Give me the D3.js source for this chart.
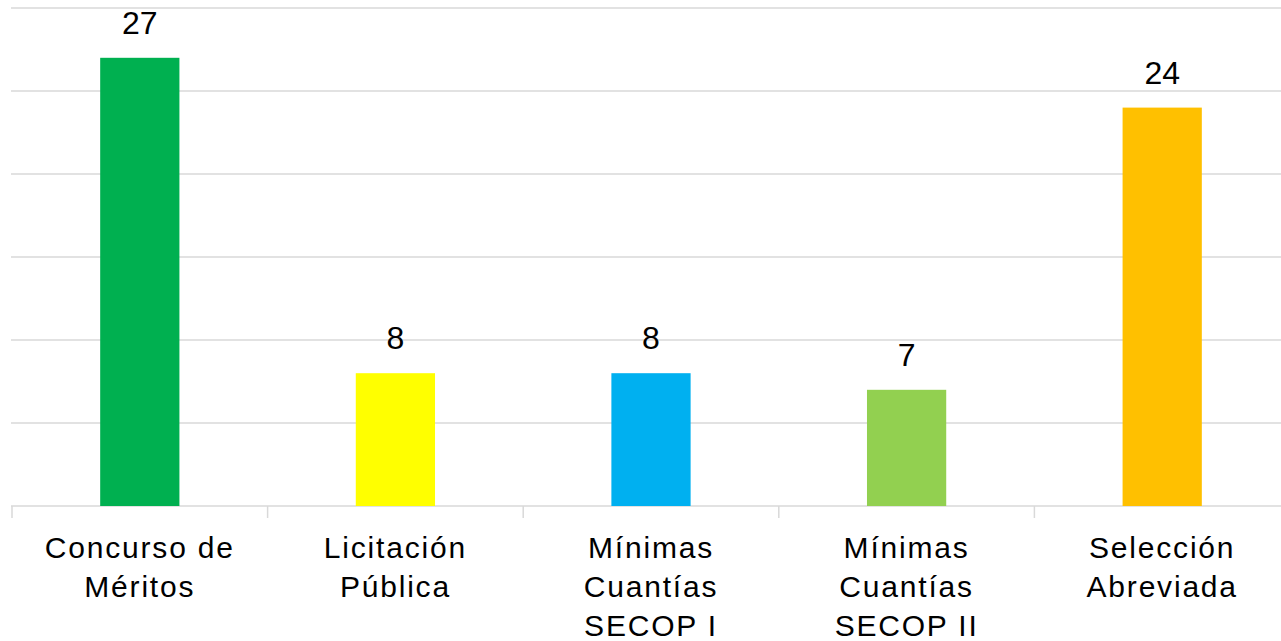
<!DOCTYPE html>
<html>
<head>
<meta charset="utf-8">
<script src="https://cdn.jsdelivr.net/npm/d3@7"></script>
<style>
  body { margin: 0; background: #fff; }
  svg { display: block; }
</style>
</head>
<body>
<script>
// Chart data
const categories = [
    ['Concurso de', 'Méritos'],
    ['Licitación', 'Pública'],
    ['Mínimas', 'Cuantías', 'SECOP I'],
    ['Mínimas', 'Cuantías', 'SECOP II'],
    ['Selección', 'Abreviada']
];
const values = [27, 8, 8, 7, 24];
const colors = ['#00B050', '#FFFF00', '#00B0F0', '#92D050', '#FFC000'];
const yTicks = [0, 5, 10, 15, 20, 25, 30];

const width = 1281;
const height = 641;
const plot = { left: 12, right: 1290, top: 8, bottom: 506 };

const svg = d3.select('body')
    .append('svg')
    .attr('width', width)
    .attr('height', height);

const keys = categories.map((c, i) => i);

const xScale = d3.scaleBand()
    .domain(keys)
    .range([plot.left, plot.right])
    .paddingInner(0.69)
    .paddingOuter(0.345);

const yScale = d3.scaleLinear()
    .domain([0, 30])
    .range([plot.bottom, plot.top]);

// Gridlines
svg.append('g')
    .selectAll('line')
    .data(yTicks)
    .enter().append('line')
    .attr('x1', plot.left - 1)
    .attr('x2', width)
    .attr('y1', d => yScale(d))
    .attr('y2', d => yScale(d))
    .attr('stroke', '#d9d9d9')
    .attr('stroke-width', 1.5);

// Category separator ticks
const step = xScale.step();
svg.append('g')
    .selectAll('line')
    .data(d3.range(categories.length + 1))
    .enter().append('line')
    .attr('x1', i => plot.left + i * step)
    .attr('x2', i => plot.left + i * step)
    .attr('y1', plot.bottom)
    .attr('y2', plot.bottom + 12)
    .attr('stroke', '#d9d9d9')
    .attr('stroke-width', 1.5);

// Bars
svg.append('g')
    .selectAll('rect')
    .data(values)
    .enter().append('rect')
    .attr('x', (d, i) => xScale(i))
    .attr('y', d => yScale(d))
    .attr('width', xScale.bandwidth())
    .attr('height', d => yScale(0) - yScale(d))
    .attr('fill', (d, i) => colors[i]);

// Value labels
svg.append('g')
    .selectAll('text')
    .data(values)
    .enter().append('text')
    .attr('x', (d, i) => xScale(i) + xScale.bandwidth() / 2)
    .attr('y', d => yScale(d) - 24)
    .attr('text-anchor', 'middle')
    .style('font-family', 'Liberation Sans, Arial, sans-serif')
    .style('font-size', '32px')
    .attr('fill', '#000')
    .text(d => d);

// Category labels
const labels = svg.append('g')
    .selectAll('text')
    .data(categories)
    .enter().append('text')
    .attr('x', (d, i) => xScale(i) + xScale.bandwidth() / 2)
    .attr('y', 558)
    .attr('text-anchor', 'middle')
    .style('font-family', 'Liberation Sans, Arial, sans-serif')
    .style('font-size', '30px')
    .style('letter-spacing', '1.8px')
    .attr('fill', '#000');

labels.selectAll('tspan')
    .data((d, i) => d.map(t => ({ t, i })))
    .enter().append('tspan')
    .attr('x', d => xScale(d.i) + xScale.bandwidth() / 2)
    .attr('dy', (d, j) => j === 0 ? 0 : 39)
    .text(d => d.t);
</script>
</body>
</html>
